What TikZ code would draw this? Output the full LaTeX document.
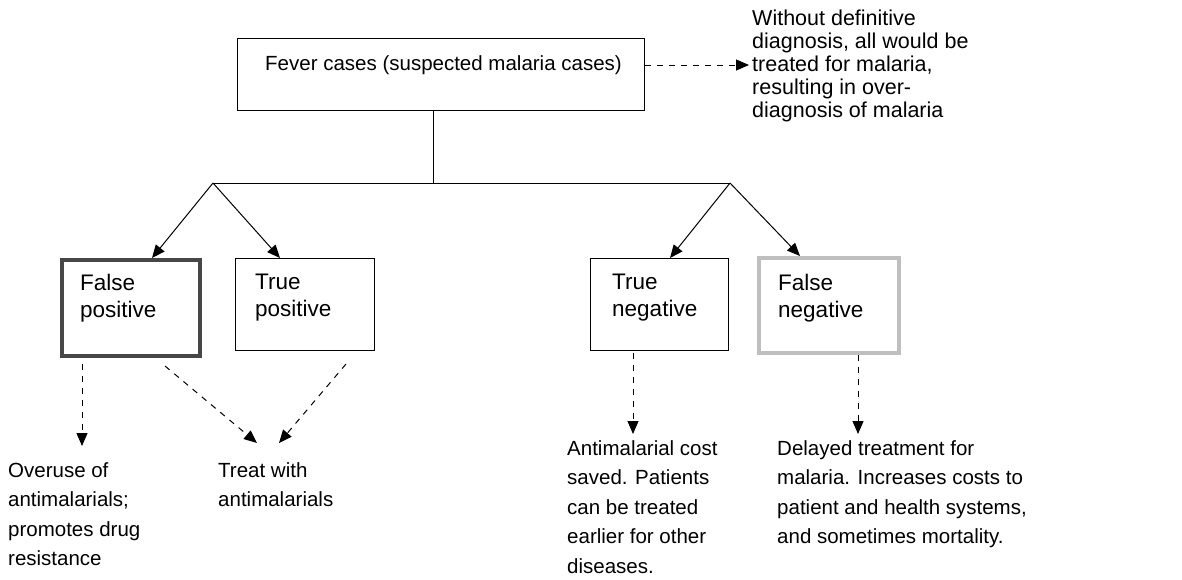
\documentclass[tikz,border=0pt]{standalone}
\usepackage{fontspec}
\setmainfont{Liberation Sans}
\usetikzlibrary{arrows.meta}
\tikzset{
  box/.style={draw=black, line width=1pt, rectangle, inner sep=0pt, anchor=north west},
  boxtext/.style={inner sep=0pt, anchor=north west, align=left, font=\fontsize{22.5}{27}\selectfont},
  txt/.style={inner sep=0pt, anchor=north west, align=left, font=\fontsize{20.5}{29.5}\selectfont},
  toptxt/.style={inner sep=0pt, anchor=north west, align=left, font=\fontsize{20.5}{24}\selectfont},
  txtr/.style={inner sep=0pt, anchor=north west, align=left, font=\fontsize{21.5}{23}\selectfont},
  solidarrow/.style={line width=1pt, -{Triangle[length=13pt,width=11pt]}},
  dasharrow/.style={line width=1pt, dash pattern=on 6pt off 6pt, -{Triangle[length=13pt,width=11pt]}},
}
\begin{document}
\begin{tikzpicture}[x=1pt,y=-1pt]
\useasboundingbox (0,0) rectangle (1182,579);
% top box
\node[box, minimum width=407pt, minimum height=72pt] (top) at (237,38) {};
\node[toptxt] (toptext) at (265,55) {Fever cases (suspected malaria cases)};
% right note
\node[txtr] (note) at (752,10) {Without definitive\\diagnosis, all would be\\treated for malaria,\\resulting in over-\\diagnosis of malaria};
\coordinate (noteend) at (749,65);
\coordinate (topright) at (645,65);
\draw[dasharrow] (topright) -- (noteend);
% tree
\coordinate (stem) at (433,110);
\coordinate (barL) at (213,183);
\coordinate (barR) at (730,183);
\coordinate (barM) at (433,183);
\draw[line width=0.8pt] (stem) -- (barM);
\draw[line width=1pt] (barL) -- (barR);
% boxes
\node[box, draw=black!72, line width=4pt, minimum width=138pt, minimum height=96pt] (fp) at (60,258) {};
\node[box, minimum width=139pt, minimum height=92pt] (tp) at (235,258) {};
\node[box, minimum width=138pt, minimum height=92pt] (tn) at (590,258) {};
\node[box, draw=black!25, line width=4pt, minimum width=140pt, minimum height=95pt] (fn) at (757,256) {};
\node[boxtext] (fpt) at (80,274) {False\\positive};
\node[boxtext] (tpt) at (255,274) {True\\positive};
\node[boxtext] (tnt) at (612,274) {True\\negative};
\node[boxtext] (fnt) at (778,274) {False\\negative};
% solid arrows
\draw[solidarrow] (barL) -- ([xshift=92pt]fp.north west);
\draw[solidarrow] (barL) -- ([xshift=45pt]tp.north west);
\draw[solidarrow] (barR) -- ([xshift=80pt]tn.north west);
\draw[solidarrow] (barR) -- ([xshift=43pt]fn.north west);
% outcome texts
\node[txt] (over) at (8,462) {Overuse of\\antimalarials;\\promotes drug\\resistance};
\node[txt] (treat) at (218,462) {Treat with\\antimalarials};
\node[txt] (saved) at (567,440) {Antimalarial cost\\saved. Patients\\can be treated\\earlier for other\\diseases.};
\node[txt] (delay) at (777,440) {Delayed treatment for\\malaria. Increases costs to\\patient and health systems,\\and sometimes mortality.};
% dashed arrows
\coordinate (d1s) at (82,364);
\coordinate (d1e) at (82,446);
\coordinate (d2s) at (165,366);
\coordinate (d2e) at (257,443);
\coordinate (d3s) at (346,364);
\coordinate (d3e) at (279,443);
\coordinate (d4s) at (633,353);
\coordinate (d4e) at (633,434);
\coordinate (d5s) at (858,355);
\coordinate (d5e) at (858,434);
\draw[dasharrow] (d1s) -- (d1e);
\draw[dasharrow] (d2s) -- (d2e);
\draw[dasharrow] (d3s) -- (d3e);
\draw[dasharrow] (d4s) -- (d4e);
\draw[dasharrow] (d5s) -- (d5e);
\end{tikzpicture}
\end{document}
